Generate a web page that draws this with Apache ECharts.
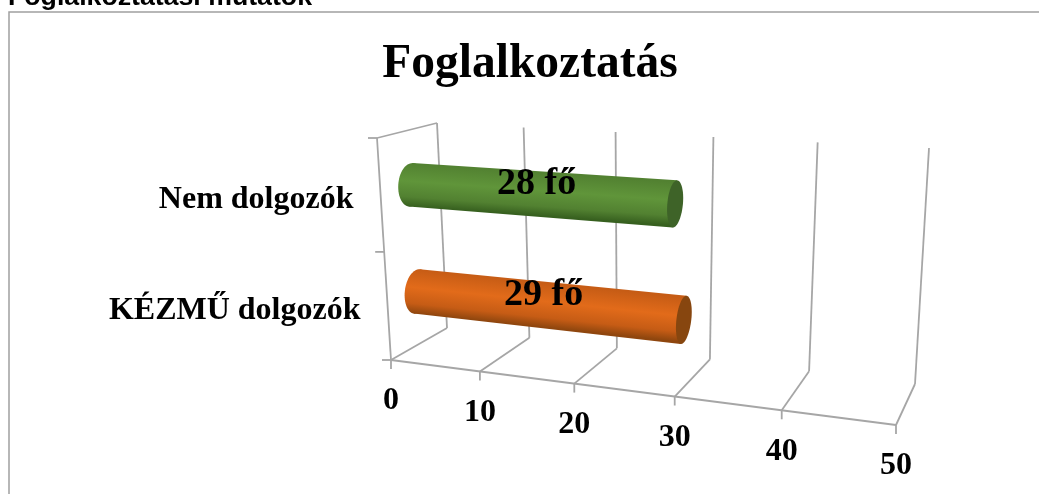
<!DOCTYPE html>
<html>
<head>
<meta charset="utf-8">
<style>
  html, body { margin: 0; padding: 0; background: #fff; }
  #main { width: 1039px; height: 494px; }
</style>
<script src="https://cdn.jsdelivr.net/npm/echarts@6/dist/echarts.min.js"></script>
</head>
<body>
<div id="main"></div>
<script>
const categories = ["KÉZMŰ dolgozók", "Nem dolgozók"];
const employees = [29, 28];
const valueTicks = [0, 10, 20, 30, 40, 50];
const unit = " fő";
const chartTitle = "Foglalkoztatás";
const pageHeading = "Foglalkoztatási mutatók";

// bar colours: [lit, edge, shadow, end cap]
const barShades = [
  ["#e26b1a", "#c65c15", "#8f460e", "#87460f"],
  ["#60953a", "#528131", "#37601f", "#3e6328"]
];
const lineColor = "#a6a6a6";
const serif = "'Liberation Serif', serif";

// corners of the 3D box as seen on screen
const frontBottom = [[391, 360], [896, 425]];
const backBottom = [[447, 328], [915, 384]];
const backTop = [[437, 123], [929, 148]];
const frontTop = [[377, 138], [914, 170]];
const foreshorten = 0.17;

function mix(a, b, k) {
  return [a[0] + (b[0] - a[0]) * k, a[1] + (b[1] - a[1]) * k];
}

// t along the value axis, d from front to back wall, h from floor to top
function project(t, d, h) {
  const s = t / (1 + foreshorten * (1 - t));
  const floor = mix(mix(frontBottom[0], frontBottom[1], s), mix(backBottom[0], backBottom[1], s), d);
  const roof = mix(mix(frontTop[0], frontTop[1], s), mix(backTop[0], backTop[1], s), d);
  return mix(floor, roof, h);
}

// axis scale -> box fractions
function toBox(params, api, value, cat) {
  const p = api.coord([value, cat]);
  const cs = params.coordSys;
  return { t: (p[0] - cs.x) / cs.width, h: 1 - (p[1] - cs.y) / cs.height };
}

function segment(a, b) {
  return {
    type: "line",
    shape: { x1: a[0], y1: a[1], x2: b[0], y2: b[1] },
    style: { stroke: lineColor, lineWidth: 1.8 }
  };
}

function renderWalls(params, api) {
  const t = toBox(params, api, api.value(0), 0).t;
  const foot = project(t, 0, 0);
  const children = [
    segment(project(t, 1, 0), project(t, 1, 1)),
    segment(foot, project(t, 1, 0)),
    segment(foot, [foot[0], foot[1] + 9])
  ];
  if (params.dataIndex === 0) {
    children.push(segment(project(0, 0, 1), project(0, 1, 1)));
    children.push(segment(project(0, 0, 0), project(0, 0, 1)));
    children.push(segment(project(0, 0, 0), project(1, 0, 0)));
    [0, 0.487, 1].forEach(function (h) {
      const q = project(0, 0, h);
      children.push(segment(q, [q[0] - 9, q[1]]));
    });
  }
  return { type: "group", silent: true, children: children };
}

function renderTickLabel(params, api) {
  const v = api.value(0);
  const q = project(toBox(params, api, v, 0).t, 0, 0);
  return {
    type: "text",
    style: {
      x: q[0], y: q[1] + 41, text: String(v),
      font: "bold 32px " + serif, fill: "#000", align: "center", verticalAlign: "middle"
    }
  };
}

function renderCategoryLabel(params, api) {
  const i = params.dataIndex;
  const q = project(0, 0, toBox(params, api, 0, i).h);
  return {
    type: "text",
    style: {
      x: q[0] - 27, y: q[1] + 6, text: categories[i],
      font: "bold 32px " + serif, fill: "#000", align: "right", verticalAlign: "middle"
    }
  };
}

const radiusD = 0.22, radiusH = 0.1, barDepth = 0.52, capSteps = 64;

function renderBar(params, api) {
  const i = api.value(1);
  const box = toBox(params, api, api.value(0), i);
  const c = barShades[i];
  const mid = box.h - 0.006;
  function ring(t, phi) {
    return project(t, barDepth - radiusD * Math.cos(phi), mid + radiusH * Math.sin(phi));
  }
  function capPoints(t) {
    const pts = [];
    for (let k = 0; k < capSteps; k++) pts.push(ring(t, k / capSteps * 2 * Math.PI));
    return pts;
  }
  const startPts = capPoints(0), endPts = capPoints(box.t);

  // direction of the bar and its normal on screen
  const a = project(0, barDepth, mid), b = project(box.t, barDepth, mid);
  const len = Math.hypot(b[0] - a[0], b[1] - a[1]);
  const nx = -(b[1] - a[1]) / len, ny = (b[0] - a[0]) / len;

  // the silhouette edges touch each end circle where it reaches furthest along the normal
  let hi = 0, lo = 0;
  startPts.forEach(function (p, k) {
    const dot = (p[0] - startPts[hi][0]) * nx + (p[1] - startPts[hi][1]) * ny;
    if (dot < 0) hi = k;
    const dot2 = (p[0] - startPts[lo][0]) * nx + (p[1] - startPts[lo][1]) * ny;
    if (dot2 > 0) lo = k;
  });

  const m = mix(a, b, 0.5);
  const half = ((startPts[lo][0] - startPts[hi][0]) * nx + (startPts[lo][1] - startPts[hi][1]) * ny) / 2;
  const body = new echarts.graphic.LinearGradient(
    m[0] - nx * half, m[1] - ny * half, m[0] + nx * half, m[1] + ny * half,
    [
      { offset: 0, color: c[1] },
      { offset: 0.42, color: c[0] },
      { offset: 0.78, color: c[1] },
      { offset: 1, color: c[2] }
    ],
    true
  );

  return {
    type: "group",
    silent: true,
    children: [
      { type: "polygon", shape: { points: startPts }, style: { fill: body } },
      {
        type: "polygon",
        shape: { points: [startPts[hi], endPts[hi], endPts[lo], startPts[lo]] },
        style: { fill: body }
      },
      { type: "polygon", shape: { points: endPts }, style: { fill: c[3] } }
    ]
  };
}

function renderBarLabel(params, api) {
  const v = api.value(0);
  const box = toBox(params, api, v, api.value(1));
  const q = project(box.t / 2, 0.5, box.h);
  return {
    type: "text",
    z2: 10,
    style: {
      x: q[0], y: q[1] - 9, text: v + unit,
      font: "bold 38px " + serif, fill: "#000", align: "center", verticalAlign: "middle"
    }
  };
}

const barData = employees.map(function (v, i) { return [v, i]; });

const chart = echarts.init(document.getElementById("main"));
chart.setOption({
  animation: false,
  backgroundColor: "#fff",
  title: [
    {
      text: chartTitle, left: 530, top: 65, padding: 0, textAlign: "center", textVerticalAlign: "middle",
      textStyle: { fontFamily: serif, fontWeight: "bold", fontSize: 47.5, color: "#000" }
    },
    {
      text: pageHeading, left: 8, top: -16, padding: 0,
      textStyle: { fontFamily: "'Liberation Sans', sans-serif", fontWeight: "bold", fontSize: 26.7, color: "#000" }
    }
  ],
  // the grid only supplies the scales, the box is projected from it
  grid: { left: 100, right: 100, top: 100, bottom: 100 },
  xAxis: { type: "value", min: 0, max: 50, interval: 10, show: false },
  yAxis: { type: "category", data: categories, show: false },
  graphic: [
    {
      type: "polyline",
      shape: { points: [[9, 494], [9, 12], [1039, 12]] },
      style: { stroke: "#a0a0a0", fill: "none", lineWidth: 1.5 }
    }
  ],
  series: [
    { type: "custom", renderItem: renderWalls, data: valueTicks, clip: false, z: 1 },
    { type: "custom", renderItem: renderTickLabel, data: valueTicks, clip: false, z: 2 },
    { type: "custom", renderItem: renderCategoryLabel, data: categories.map(function (c, i) { return i; }), clip: false, z: 2 },
    { type: "custom", renderItem: renderBar, data: barData, clip: false, z: 3 },
    { type: "custom", renderItem: renderBarLabel, data: barData, clip: false, z: 4 }
  ]
});
</script>
</body>
</html>
